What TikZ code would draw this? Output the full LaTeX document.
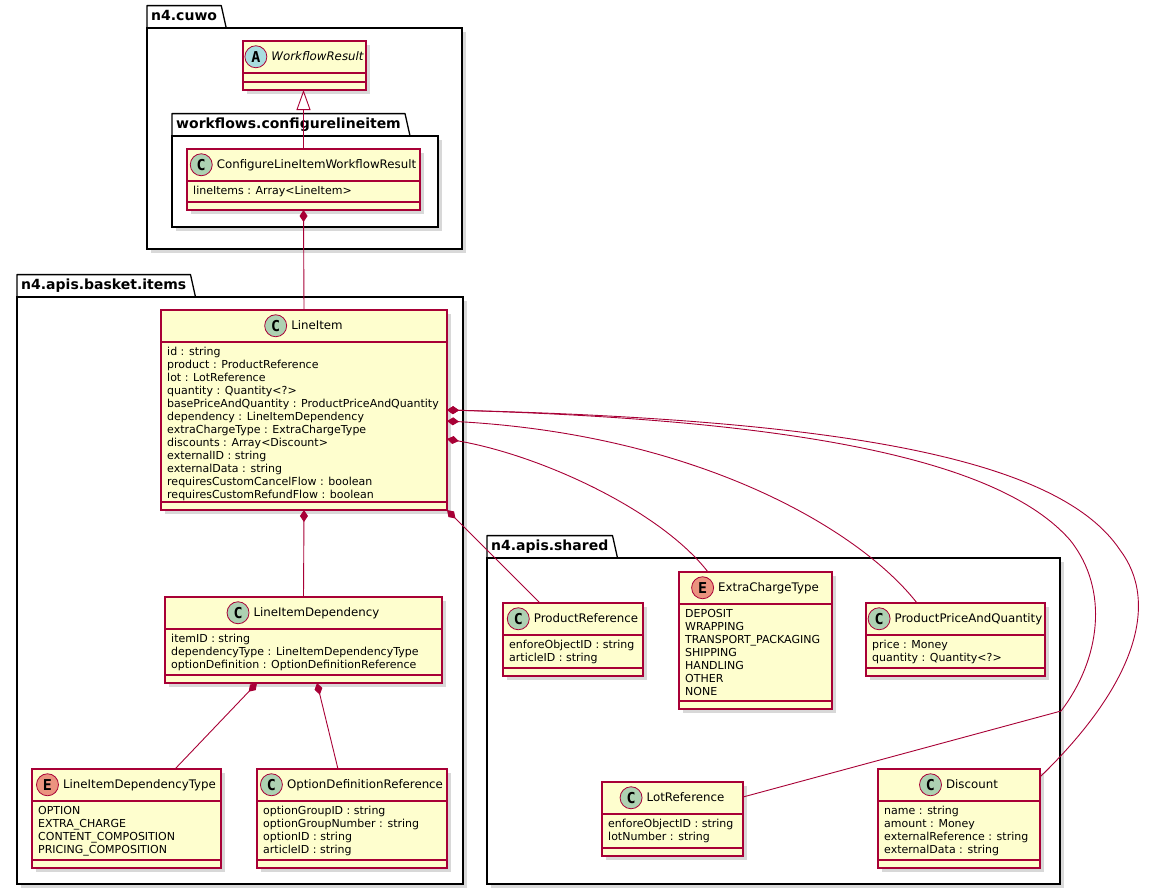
\documentclass[tikz,border=0pt]{standalone}
\usepackage{fontspec}
\setmainfont{DejaVu Sans}
\setmonofont{DejaVu Sans Mono}
\usepackage{tikz}
\tikzset{>=latex}
\definecolor{umlred}{HTML}{A80036}
\definecolor{umlfill}{HTML}{FEFECE}
\definecolor{iconC}{HTML}{ADD1B2}
\definecolor{iconA}{HTML}{A9DCDF}
\definecolor{iconE}{HTML}{EB937F}
\usetikzlibrary{arrows.meta,shadows,positioning,calc}
\tikzstyle{classbox}=[draw=umlred,fill=umlfill,line width=1.2pt,inner sep=0,outer sep=0,drop shadow={shadow xshift=4pt,shadow yshift=-4pt,opacity=0.3}]
\tikzstyle{classline}=[umlred,line width=1.2pt]
\tikzstyle{classtitle}=[inner sep=0,text height=9pt,text depth=2.5pt,font=\fontsize{11.8}{14}\selectfont]
\tikzstyle{classattr}=[anchor=north west,align=left,inner xsep=6pt,inner ysep=5pt,font=\fontsize{11}{13}\selectfont]
\tikzset{
	icon/.style={
		circle,draw=umlred,line width=0.8pt,minimum size=22pt,inner sep=0,
		font=\ttfamily\bfseries\fontsize{15}{15}\selectfont,
	},
	icC/.style={icon,fill=iconC},
	icA/.style={icon,fill=iconA},
	icE/.style={icon,fill=iconE},
	pkgbody/.style={
		anchor=north west,draw,fill=white,line width=1.3pt,inner sep=0,outer sep=0,
		drop shadow={shadow xshift=4pt,shadow yshift=-4pt,opacity=0.3},
	},
	pkgtab/.style={
		anchor=south west,inner xsep=4pt,inner ysep=0,minimum height=22pt,
		text height=10pt,text depth=3pt,font=\bfseries\fontsize{14}{16}\selectfont,
	},
	pkgline/.style={line width=1.3pt,line join=round},
	comp/.style={umlred,line width=0.9pt,{Diamond[length=12pt,width=8pt]}-},
	extends/.style={umlred,line width=0.9pt,-{Triangle[length=20pt,width=14pt,fill=white]}},
}
% name, north west corner, width, height, icon style, letter, title, fields
\newcommand{\umlclass}[8]{%
	\node[classbox,minimum width=#3,minimum height=#4,anchor=north west] (#1) at (#2) {};
	\node[classtitle] (#1-t) at ([xshift=13pt,yshift=-15.75pt]#1.north) {#7};
	\node[#5,left=4pt of #1-t] (#1-i) {#6};
	\draw[classline] ([yshift=-32pt]#1.north west) -- ([yshift=-32pt]#1.north east);
	\draw[classline] ([yshift=8pt]#1.south west) -- ([yshift=8pt]#1.south east);
	\node[classattr] (#1-a) at ([yshift=-32pt]#1.north west) {#8};
}

\begin{document}
\begin{tikzpicture}[x=1pt,y=-1pt]
	\useasboundingbox (0,0) rectangle (1169,895);
	% Packages
	\node[pkgbody,minimum width=315,minimum height=221] (cuwo) at (147,28) {};
	\node[pkgtab] (cuwo-t) at (cuwo.north west) {n4.cuwo};
	\draw[pkgline] (cuwo-t.south west) -- (cuwo-t.north west) -- (cuwo-t.north east) -- ([xshift=5pt]cuwo-t.south east);
	\node[pkgbody,minimum width=266,minimum height=91] (cfg) at (172,136) {};
	\node[pkgtab] (cfg-t) at (cfg.north west) {workflows.configurelineitem};
	\draw[pkgline] (cfg-t.south west) -- (cfg-t.north west) -- (cfg-t.north east) -- ([xshift=5pt]cfg-t.south east);
	\node[pkgbody,minimum width=446,minimum height=587] (items) at (17,297) {};
	\node[pkgtab] (items-t) at (items.north west) {n4.apis.basket.items};
	\draw[pkgline] (items-t.south west) -- (items-t.north west) -- (items-t.north east) -- ([xshift=5pt]items-t.south east);
	\node[pkgbody,minimum width=573,minimum height=326] (shared) at (487,558) {};
	\node[pkgtab] (shared-t) at (shared.north west) {n4.apis.shared};
	\draw[pkgline] (shared-t.south west) -- (shared-t.north west) -- (shared-t.north east) -- ([xshift=5pt]shared-t.south east);
	% Classes
	\umlclass{wfresult}{243,41}{123}{49}{icA}{A}{\itshape WorkflowResult}{}
	\umlclass{cfgresult}{187,149}{233}{61}{icC}{C}{ConfigureLineItemWorkflowResult}{lineItems : Array<LineItem>}
	\umlclass{lineitem}{161,310}{286}{200}{icC}{C}{LineItem}{id : string\\product : ProductReference\\lot : LotReference\\quantity : Quantity<?>\\basePriceAndQuantity : ProductPriceAndQuantity\\dependency : LineItemDependency\\extraChargeType : ExtraChargeType\\discounts : Array<Discount>\\externalID : string\\externalData : string\\requiresCustomCancelFlow : boolean\\requiresCustomRefundFlow : boolean}
	\umlclass{lidep}{165,597}{277}{86}{icC}{C}{LineItemDependency}{itemID : string\\dependencyType : LineItemDependencyType\\optionDefinition : OptionDefinitionReference}
	\umlclass{lideptype}{32,769}{189}{99}{icE}{E}{LineItemDependencyType}{OPTION\\EXTRA\_CHARGE\\CONTENT\_COMPOSITION\\PRICING\_COMPOSITION}
	\umlclass{optdef}{257,769}{190}{99}{icC}{C}{OptionDefinitionReference}{optionGroupID : string\\optionGroupNumber : string\\optionID : string\\articleID : string}
	\umlclass{prodref}{503,603}{140}{73}{icC}{C}{ProductReference}{enforeObjectID : string\\articleID : string}
	\umlclass{extracharge}{679,572}{153}{137}{icE}{E}{ExtraChargeType}{DEPOSIT\\WRAPPING\\TRANSPORT\_PACKAGING\\SHIPPING\\HANDLING\\OTHER\\NONE}
	\umlclass{prodprice}{866,603}{179}{73}{icC}{C}{ProductPriceAndQuantity}{price : Money\\quantity : Quantity<?>}
	\umlclass{lotref}{602,782}{141}{74}{icC}{C}{LotReference}{enforeObjectID : string\\lotNumber : string}
	\umlclass{discount}{878,769}{162}{99}{icC}{C}{Discount}{name : string\\amount : Money\\externalReference : string\\externalData : string}
	% Links
	\coordinate (lotbend) at (1061,711);
	\draw[extends] (cfgresult.north) -- (cfgresult.north |- wfresult.south);
	\draw[comp] (cfgresult.south) -- (lineitem.north);
	\draw[comp] (lineitem.south) -- (lidep.north);
	\draw[comp] ([xshift=-46.5pt]lidep.south) -- ([xshift=48.5pt]lideptype.north);
	\draw[comp] ([xshift=13.5pt]lidep.south) -- ([xshift=-14pt]optdef.north);
	\draw[comp] (lineitem.south east) -- ([xshift=-33pt]prodref.north);
	\draw[comp] ([yshift=-29pt]lineitem.east) .. controls (540,455) and (660,510) .. ([xshift=-47.5pt]extracharge.north);
	\draw[comp] ([yshift=-11pt]lineitem.east) .. controls (700,435) and (860,530) .. ([xshift=-38.5pt]prodprice.north);
	\draw[comp] (lineitem.east) .. controls (800,420) and (1000,460) .. (1070,540) .. controls (1110,590) and (1100,660) .. (lotbend) -- ([yshift=22pt]lotref.east);
	\draw[comp] (lineitem.east) .. controls (850,420) and (1060,460) .. (1120,550) .. controls (1158,600) and (1140,680) .. ([yshift=-8pt]discount.north east);
\end{tikzpicture}
\end{document}
